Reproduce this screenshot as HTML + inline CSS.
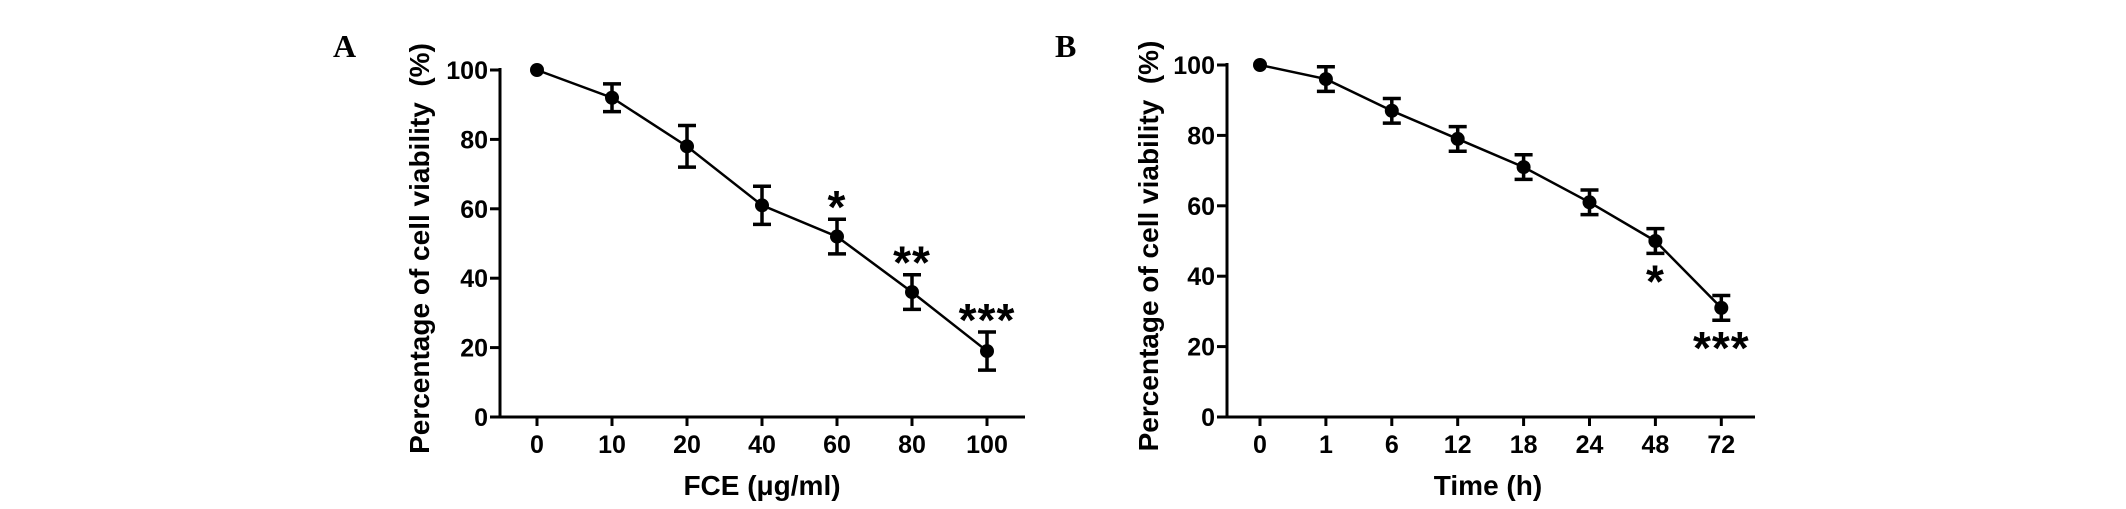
<!DOCTYPE html>
<html><head><meta charset="utf-8"><style>
html,body{margin:0;padding:0;background:#fff}
svg{display:block}
text{font-family:"Liberation Sans",Arial,sans-serif;font-weight:bold;fill:#000}
</style></head><body>
<svg id="svg" width="2126" height="509" viewBox="0 0 2126 509" xmlns="http://www.w3.org/2000/svg"></svg>
<script>
const catsA = ["0","10","20","40","60","80","100"];
const valsA = [100,92,78,61,52,36,19];
const errA = [0,4,6,5.5,5,5,5.5];
const starsA = ["","","","","*","**","***"];
const catsB = ["0","1","6","12","18","24","48","72"];
const valsB = [100,96,87,79,71,61,50,31];
const errB = [0,3.5,3.5,3.5,3.5,3.5,3.5,3.5];
const starsB = ["","","","","","","*","***"];
const yTicks = [0,20,40,60,80,100];

const NS="http://www.w3.org/2000/svg";
const svg=document.getElementById('svg');
function mk(tag,attrs,parent){const e=document.createElementNS(NS,tag);for(const k in attrs)e.setAttribute(k,attrs[k]);(parent||svg).appendChild(e);return e;}

function panel(cfg){
  const g=mk('g',{});
  
  
  const y=v=>cfg.y0-(v/100)*(cfg.y0-cfg.y100);
  const x=i=>cfg.x0+i*cfg.dx;
  const ya=mk('line',{x1:cfg.ax,y1:cfg.y100-2,x2:cfg.ax,y2:cfg.y0,stroke:'#000','stroke-width':3},g);
  
  
  const xa=mk('line',{x1:cfg.ax-10,y1:cfg.y0,x2:cfg.xend,y2:cfg.y0,stroke:'#000','stroke-width':3},g);
  
  
  yTicks.forEach(t=>{
    const l=mk('line',{x1:cfg.ax-10,y1:y(t),x2:cfg.ax,y2:y(t),stroke:'#000','stroke-width':3},g);
    
    
    const tx=mk('text',{x:cfg.ax-12,y:y(t)+9,'text-anchor':'end','font-size':25},g);
    tx.textContent=t;
    
    
  });
  cfg.cats.forEach((c,i)=>{
    const l=mk('line',{x1:x(i),y1:cfg.y0,x2:x(i),y2:cfg.y0+9,stroke:'#000','stroke-width':3},g);
    
    
    const tx=mk('text',{x:x(i),y:cfg.y0+36,'text-anchor':'middle','font-size':25},g);
    tx.textContent=c;
    
    
  });
  const pts=cfg.vals.map((v,i)=>x(i)+','+y(v)).join(' ');
  const pl=mk('polyline',{points:pts,fill:'none',stroke:'#000','stroke-width':2.5},g);
  
  
  cfg.vals.forEach((v,i)=>{
    const e=cfg.err[i];
    if(e>0){
      const eb=mk('path',{d:`M${x(i)},${y(v+e)}V${y(v-e)}M${x(i)-9},${y(v+e)}H${x(i)+9}M${x(i)-9},${y(v-e)}H${x(i)+9}`,stroke:'#000','stroke-width':3.5,fill:'none'},g);
      
      
    }
    const c=mk('circle',{cx:x(i),cy:y(v),r:7,fill:'#000'},g);
    
    
    const s=cfg.stars[i];
    if(s){
      const sy=cfg.starsBelow? y(v-e)+44 : y(v+e)+4;
      const st=mk('text',{x:x(i),y:sy,'text-anchor':'middle','font-size':46,'letter-spacing':1},g);
      st.textContent=s;
      
      
    }
  });
  const yt=mk('text',{x:0,y:0,'text-anchor':'middle','font-size':28,transform:`translate(${cfg.ytx},${(cfg.y0+cfg.y100)/2+5}) rotate(-90)`},g);
  yt.textContent='Percentage of cell viability\u00a0\u00a0(%)';
  
  
  const xt=mk('text',{x:cfg.xtx,y:495,'text-anchor':'middle','font-size':28},g);
  xt.textContent=cfg.xtitle;
  
  
  const pt=mk('text',{x:cfg.px,y:57,'font-size':32,style:'font-family:"Liberation Serif",serif'},g);
  pt.textContent=cfg.letter;
  
  
}
panel({name:'panel-a',cats:catsA,vals:valsA,err:errA,stars:starsA,starsBelow:false,ax:500,xend:1025,x0:537,dx:75,y0:417,y100:70,ytx:429,xtx:762,xtitle:'FCE (μg/ml)',px:333,letter:'A'});
panel({name:'panel-b',cats:catsB,vals:valsB,err:errB,stars:starsB,starsBelow:true,ax:1227,xend:1755,x0:1260,dx:65.9,y0:417,y100:65,ytx:1158,xtx:1488,xtitle:'Time (h)',px:1055,letter:'B'});
</script>
</body></html>
